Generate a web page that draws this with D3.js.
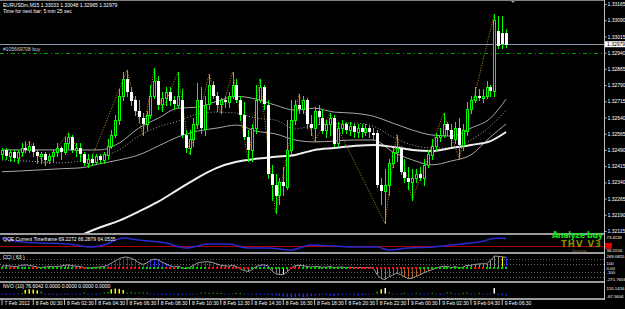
<!DOCTYPE html>
<html>
<head>
<meta charset="utf-8">
<script src="https://cdn.jsdelivr.net/npm/d3@7"></script>
<style>
  html, body { margin: 0; padding: 0; background: #000; }
  svg { display: block; font-family: "Liberation Sans", Arial, sans-serif; }
</style>
</head>
<body>
<svg id="chart" width="625" height="309"></svg>
<script>
// ---- data ----
const openP = [
  1.3247,1.3249,1.3246,1.3248,1.3245,1.3248,1.3250,1.3249,1.3251,1.3248,
  1.3246,1.3247,1.3244,1.3246,1.3248,1.3250,1.3248,1.3252,1.3255,1.3249,
  1.3250,1.3247,1.3243,1.3245,1.3243,1.3246,1.3244,1.3247,1.3251,1.3256,
  1.3263,1.3274,1.3282,1.3276,1.3272,1.3267,1.3264,1.3261,1.3265,1.3274,
  1.3281,1.3270,1.3273,1.3276,1.3272,1.3270,1.3272,1.3256,1.3250,1.3254,
  1.3261,1.3272,1.3259,1.3270,1.3279,1.3274,1.3270,1.3272,1.3271,1.3274,
  1.3279,1.3272,1.3265,1.3255,1.3249,1.3259,1.3272,1.3278,1.3270,1.3238,
  1.3233,1.3228,1.3234,1.3232,1.3249,1.3263,1.3270,1.3268,1.3272,1.3261,
  1.3259,1.3267,1.3264,1.3258,1.3261,1.3264,1.3252,1.3259,1.3261,1.3258,
  1.3260,1.3257,1.3259,1.3257,1.3259,1.3257,1.3257,1.3233,1.3230,1.3233,
  1.3243,1.3248,1.3250,1.3239,1.3236,1.3234,1.3236,1.3238,1.3236,1.3242,
  1.3247,1.3251,1.3255,1.3256,1.3261,1.3258,1.3254,1.3259,1.3251,1.3258,
  1.3268,1.3272,1.3274,1.3273,1.3274,1.3278,1.3276,1.3304,1.3303,1.33033
];
const highP = [
  1.3250,1.3250,1.3249,1.3249,1.3249,1.3252,1.3253,1.3253,1.3252,1.3249,
  1.3248,1.3248,1.3247,1.3249,1.3252,1.3251,1.3255,1.3257,1.3256,1.3252,
  1.3252,1.3248,1.3247,1.3247,1.3247,1.3247,1.3248,1.3254,1.3258,1.3265,
  1.3277,1.3285,1.3286,1.3278,1.3274,1.3272,1.3266,1.3267,1.3279,1.3287,
  1.3283,1.3276,1.3278,1.3278,1.3274,1.3285,1.3277,1.3258,1.3258,1.3264,
  1.3280,1.3278,1.3274,1.3284,1.3281,1.3276,1.3273,1.3274,1.3276,1.3285,
  1.3282,1.3274,1.3271,1.3258,1.3261,1.3279,1.3282,1.3279,1.3272,1.3242,
  1.3238,1.3236,1.3241,1.3263,1.3272,1.3272,1.3275,1.3274,1.3273,1.3265,
  1.3269,1.3270,1.3268,1.3263,1.3266,1.3265,1.3262,1.3263,1.3262,1.3262,
  1.3261,1.3261,1.3261,1.3261,1.3260,1.3259,1.3258,1.3236,1.3240,1.3245,
  1.3250,1.3256,1.3251,1.3245,1.3241,1.3240,1.3240,1.3241,1.3245,1.3249,
  1.3254,1.3257,1.3259,1.3266,1.3262,1.3261,1.3262,1.3264,1.3261,1.3271,
  1.3274,1.3278,1.3277,1.3277,1.3281,1.3279,1.3312,1.3311,1.3311,1.33048
];
const lowP = [
  1.3245,1.3245,1.3244,1.3244,1.3243,1.3246,1.3248,1.3248,1.3246,1.3243,
  1.3243,1.3242,1.3243,1.3244,1.3246,1.3245,1.3247,1.3250,1.3248,1.3246,
  1.3244,1.3242,1.3241,1.3242,1.3243,1.3243,1.3243,1.3245,1.3250,1.3255,
  1.3261,1.3272,1.3274,1.3270,1.3265,1.3262,1.3256,1.3258,1.3264,1.3273,
  1.3268,1.3267,1.3270,1.3270,1.3268,1.3269,1.3255,1.3248,1.3247,1.3251,
  1.3259,1.3257,1.3256,1.3268,1.3273,1.3267,1.3266,1.3269,1.3269,1.3273,
  1.3271,1.3263,1.3254,1.3244,1.3244,1.3257,1.3271,1.3268,1.3236,1.3226,
  1.3220,1.3224,1.3228,1.3231,1.3247,1.3261,1.3266,1.3266,1.3259,1.3256,
  1.3253,1.3261,1.3257,1.3255,1.3256,1.3251,1.3251,1.3257,1.3257,1.3256,
  1.3255,1.3255,1.3255,1.3256,1.3255,1.3254,1.3232,1.3224,1.3215,1.3228,
  1.3241,1.3244,1.3238,1.3234,1.3231,1.3226,1.3234,1.3235,1.3233,1.3241,
  1.3245,1.3249,1.3253,1.3255,1.3256,1.3251,1.3252,1.3245,1.3249,1.3256,
  1.3266,1.3271,1.3272,1.3271,1.3273,1.3274,1.3274,1.3296,1.3296,1.32965
];
const closeP = [
  1.3249,1.3246,1.3248,1.3245,1.3248,1.3250,1.3249,1.3251,1.3248,1.3246,
  1.3247,1.3244,1.3246,1.3248,1.3250,1.3248,1.3252,1.3255,1.3249,1.3250,
  1.3247,1.3243,1.3245,1.3243,1.3246,1.3244,1.3247,1.3251,1.3256,1.3263,
  1.3274,1.3282,1.3276,1.3272,1.3267,1.3264,1.3261,1.3265,1.3274,1.3281,
  1.3270,1.3273,1.3276,1.3272,1.3270,1.3274,1.3256,1.3250,1.3254,1.3261,
  1.3272,1.3259,1.3270,1.3279,1.3274,1.3270,1.3272,1.3271,1.3274,1.3279,
  1.3272,1.3265,1.3255,1.3249,1.3259,1.3272,1.3278,1.3270,1.3238,1.3233,
  1.3228,1.3234,1.3232,1.3249,1.3263,1.3270,1.3268,1.3272,1.3261,1.3259,
  1.3267,1.3264,1.3258,1.3261,1.3264,1.3252,1.3259,1.3261,1.3258,1.3260,
  1.3257,1.3259,1.3257,1.3259,1.3257,1.3256,1.3233,1.3230,1.3233,1.3243,
  1.3248,1.3250,1.3239,1.3236,1.3234,1.3236,1.3238,1.3236,1.3242,1.3247,
  1.3251,1.3255,1.3256,1.3261,1.3258,1.3254,1.3259,1.3251,1.3258,1.3268,
  1.3272,1.3274,1.3273,1.3274,1.3278,1.3276,1.3309,1.3297,1.3298,1.32979
];

// moving-average envelope, sampled every 5 bars
const bandIdx = [0,5,10,15,20,25,30,35,40,45,50,55,60,65,70,75,80,85,90,95,100,105,110,115,120,125,129];
const upperBand = [1.32490,1.32490,1.32490,1.32490,1.32490,1.32490,1.32522,1.32591,1.32637,1.32683,1.32688,1.32715,1.32738,1.32725,1.32697,1.32674,1.32683,1.32665,1.32660,1.32646,1.32614,1.32582,1.32559,1.32554,1.32591,1.32637,1.32725];
const midBand = [1.32444,1.32439,1.32435,1.32430,1.32439,1.32458,1.32490,1.32554,1.32596,1.32623,1.32656,1.32665,1.32660,1.32637,1.32628,1.32587,1.32605,1.32610,1.32614,1.32600,1.32550,1.32513,1.32499,1.32499,1.32536,1.32600,1.32674];
const lowerBand = [1.32389,1.32393,1.32398,1.32403,1.32407,1.32426,1.32444,1.32467,1.32508,1.32550,1.32577,1.32591,1.32605,1.32577,1.32564,1.32536,1.32527,1.32531,1.32536,1.32536,1.32481,1.32444,1.32421,1.32439,1.32467,1.32550,1.32610];
const slowIdx = [15,20,25,30,35,40,45,50,55,60,65,70,75,80,85,90,95,100,105,110,115,120,125,129];
const slowMA = [1.32053,1.32094,1.32131,1.32163,1.32205,1.32251,1.32306,1.32361,1.32407,1.32435,1.32449,1.32458,1.32467,1.32490,1.32499,1.32508,1.32513,1.32504,1.32490,1.32485,1.32499,1.32513,1.32531,1.32573];

// zigzag turning bars: h = bar high, l = bar low
const zigzag = [[4,'l'],[7,'h'],[11,'l'],[17,'h'],[22,'l'],[32,'h'],[36,'l'],[39,'h'],[41,'l'],[45,'h'],[48,'l'],[53,'h'],[56,'l'],[59,'h'],[63,'l'],[66,'h'],[70,'l'],[76,'h'],[80,'l'],[84,'h'],[98,'l'],[101,'h'],[105,'l'],[113,'h'],[117,'l'],[126,'h']];

const priceTicks = [1.33165,1.33090,1.33015,1.32940,1.32865,1.32790,1.32715,1.32640,1.32565,1.32490,1.32415,1.32340,1.32265,1.32190,1.32115];
const bidPrice = 1.32979;
const orderPrice = 1.32940;

const timeIdx = [0,8,16,24,32,40,48,56,64,72,80,88,96,104,112,120,128];
const timeLabels = ['7 Feb 2012','8 Feb 00:30','8 Feb 02:30','8 Feb 04:30','8 Feb 06:30','8 Feb 08:30','8 Feb 10:30','8 Feb 12:30','8 Feb 14:30','8 Feb 16:30','8 Feb 18:30','8 Feb 20:30','8 Feb 22:30','9 Feb 00:30','9 Feb 02:30','9 Feb 04:30','9 Feb 06:30'];

// QQE line
const qqeIdx = [0,5,10,17,23,26,31,35,42,47,53,58,63,68,74,79,85,90,96,99,104,110,115,122,127,129];
const qqeVals = [70.8,60.2,57.6,55.0,47.0,52.3,70.8,65.5,57.6,44.4,55.0,55.0,44.4,44.4,39.1,52.3,49.7,47.0,47.0,39.1,44.4,47.0,52.3,60.2,70.8,69.2];

// CCI(63) per bar, its bar colour (g grey, b blue, o brown, y yellow) and the zero-row dots (g green, r red)
const cciVals = [40,50,45,30,35, 60,70,55,40,20, 10,20,30,25,35, 40,60,70,50,40, 30,10,-10,5,15, 20,30,60,110,160,
  210,240,245,220,180, 120,80,110,170,200, 180,130,90,50,20, 40,10,-20,10,60, 110,130,140,140,120, 90,60,50,40,60,
  30,-20,-60,-80,-40, 30,60,70,50,-60, -130,-150,-150,-90,0, 50,60,55,30,20, 30,30,15,20,30, 10,15,20,10,15,
  10,5,10,5,10, 0,-150,-240,-260,-200, -160,-120,-150,-200,-240, -230,-190,-150,-110,-70, -40,-10,20,40,30,
  10,30,-10,20,60, 60,80,90,95,95, 170,270,260,250,240];
const cciBarColor = 'gggggbbbbggggggggggggggggggbbbbbbbbbbbbbbbbbbbggggbbbbbbggggggggbbbbggggyggggggggggggggggggggggggoooooooooooooooogggggggggggggggybbbbbb';
const cciDotColor = 'ggrrggggrrgggggggggrrrgggggrrrrrrrrrggggggrrrggggggggrrrrrrrrrrrggggggggggrrrggggggggggggrrrrrrrrrrrrrrrrrrggggggggggggggrrrggggggggggg';

// NVO(10) histogram per bar
const nvoVals = [-30,-40,-30,-35,-20,20,100,120,110,90, 60,-30,-40,-35,-45,-30,-40,-35,-20,-30,
  -25,30,-30,-20,-35,-25,30,40,120,140, 130,100,30,40,25,35,30,20,-20,-25,
  -30,-40,-45,-35,-30,-50,-40,-30,-25,-30, -20,25,30,20,25,20,15,-20,-25,-15,
  20,15,-20,-30,-25,-40,-35,-30,-40,-45, -50,-60,-80,-90,-100,-90,-80,-100,-90,-70,
  -60,-50,-30,-40,-60,-70,-50,-40,-30,-20, -40,-60,-50,-40,-30,-20,60,120,155,40,
  -20,-30,-40,20,-30,-20,25,-40,-30,-20, 20,-30,-40,-20,30,25,-30,-40,20,30,
  -20,-30,20,-25,-30,-20,155,-40,-50,-60];

// ---- layout ----
const AXIS_X = 604;
const MAIN_BOTTOM = 233;
const FONT = 5;
const SMALL_FONT = 4.3;
const LIME = '#00ff00';

const svg = d3.select('#chart');
svg.append('rect').attr('width', 625).attr('height', 309).attr('fill', '#000');

const x = d3.scaleLinear().domain([0, 129]).range([2, 506.1]);
const y = d3.scaleLinear().domain([1.32115, 1.33165]).range([231, 4]);
const qy = d3.scaleLinear().domain([36.5156, 73.4118]).range([251, 237]);
const cy = d3.scaleLinear().domain([-271.7656, 269.0855]).range([280, 256]);
const ny = d3.scaleLinear().domain([-67.5604, 155.1416]).range([296, 288]);
const px = i => Math.round(x(i)) + 0.5;

const bars = d3.range(openP.length).map(i => ({
  i, o: openP[i], h: highP[i], l: lowP[i], c: closeP[i]
}));

svg.append('clipPath').attr('id', 'mainClip')
  .append('rect').attr('x', 0).attr('y', 1).attr('width', AXIS_X).attr('height', MAIN_BOTTOM - 1);

const main = svg.append('g').attr('clip-path', 'url(#mainClip)');

// smooth line through values sampled at a few bar indices
const knotLine = (idx, vals, scale) => d3.line()
  .x((d, k) => x(idx[k]))
  .y(d => scale(d))
  .curve(d3.curveMonotoneX)(vals);

// Envelope and slow average
main.append('path').attr('d', knotLine(bandIdx, upperBand, y))
  .attr('fill', 'none').attr('stroke', '#a8a8a8').attr('stroke-width', 1);
main.append('path').attr('d', knotLine(bandIdx, midBand, y))
  .attr('fill', 'none').attr('stroke', '#a8a8a8').attr('stroke-width', 1).attr('stroke-dasharray', '1,2');
main.append('path').attr('d', knotLine(bandIdx, lowerBand, y))
  .attr('fill', 'none').attr('stroke', '#a8a8a8').attr('stroke-width', 1);
main.append('path').attr('d', knotLine(slowIdx, slowMA, y))
  .attr('fill', 'none').attr('stroke', '#f0f0f0').attr('stroke-width', 2);

// Zigzag through the swing highs / lows
main.append('path')
  .attr('d', d3.line()
    .x(d => x(d[0]))
    .y(d => y(d[1] === 'h' ? highP[d[0]] : lowP[d[0]]))(zigzag))
  .attr('fill', 'none').attr('stroke', '#c98a1e').attr('stroke-width', 1).attr('stroke-dasharray', '1,1.5');

// Bid line and the open order line
const bidY = Math.round(y(bidPrice)) + 0.5;
const orderY = Math.round(y(orderPrice)) + 0.5;
main.append('line').attr('x1', 0).attr('x2', AXIS_X).attr('y1', bidY).attr('y2', bidY)
  .attr('stroke', '#8797a8');
main.append('line').attr('x1', 0).attr('x2', AXIS_X).attr('y1', orderY).attr('y2', orderY)
  .attr('stroke', '#00a000').attr('stroke-dasharray', '4,3,1,3');

// Candles: white body = bear, black body with lime edge = bull
const candle = main.selectAll('.candle').data(bars).enter().append('g').attr('class', 'candle');
candle.append('line')
  .attr('x1', d => px(d.i)).attr('x2', d => px(d.i))
  .attr('y1', d => Math.round(y(d.h))).attr('y2', d => Math.round(y(d.l)) + 1)
  .attr('stroke', LIME);
candle.append('rect')
  .attr('x', d => d.c < d.o ? px(d.i) - 1.5 : px(d.i) - 1)
  .attr('width', d => d.c < d.o ? 3 : 2)
  .attr('y', d => Math.round(Math.min(y(d.o), y(d.c))) + (d.c < d.o ? 0 : 0.5))
  .attr('height', d => Math.max(1, Math.round(Math.abs(y(d.o) - y(d.c)))))
  .attr('fill', d => d.c < d.o ? '#ffffff' : '#000')
  .attr('stroke', d => d.c < d.o ? 'none' : LIME);

// Top border and shift marker
svg.append('path').attr('d', 'M510,0 L516,0 L513,3 Z').attr('fill', '#9a9a9a');
svg.append('line').attr('x1', 0).attr('x2', AXIS_X).attr('y1', 0.5).attr('y2', 0.5).attr('stroke', '#808080');

// ---- QQE panel ----
const q50 = Math.round(qy(50)) + 0.5;
svg.append('line').attr('x1', 0).attr('x2', AXIS_X).attr('y1', q50).attr('y2', q50)
  .attr('stroke', '#b00000');
svg.append('path').attr('d', knotLine(qqeIdx, qqeVals, qy))
  .attr('fill', 'none').attr('stroke', '#2a2ad0').attr('stroke-width', 1.5);

// ---- CCI panel ----
[200, 100, -100, -200].forEach(v => {
  const ly = Math.round(cy(v)) + 0.5;
  svg.append('line').attr('x1', 0).attr('x2', AXIS_X).attr('y1', ly).attr('y2', ly)
    .attr('stroke', '#6a6a6a').attr('stroke-dasharray', '1,2');
});
const cciColors = { g: '#8a8a8a', b: '#2a2ae0', o: '#b0602a', y: '#ffff00' };
svg.append('g').selectAll('line').data(cciVals).enter().append('line')
  .attr('x1', (d, i) => px(i)).attr('x2', (d, i) => px(i))
  .attr('y1', cy(0)).attr('y2', d => cy(d))
  .attr('stroke', (d, i) => cciColors[cciBarColor[i]]);
svg.append('path')
  .attr('d', d3.line().x((d, i) => x(i)).y(d => cy(d))(cciVals))
  .attr('fill', 'none').attr('stroke', '#9a9a9a').attr('stroke-width', 1);
svg.append('g').selectAll('rect').data(cciVals).enter().append('rect')
  .attr('x', (d, i) => Math.round(x(i)) - 1).attr('y', Math.round(cy(0)) - 1)
  .attr('width', 2).attr('height', 2)
  .attr('fill', (d, i) => cciDotColor[i] === 'g' ? '#00d000' : '#ff1010');

// ---- NVO panel ----
const nvoColor = v => v >= 150 ? '#ffffff' : v >= 90 ? '#ffff00' : v > 0 ? '#00b000' : '#2a2ad8';
svg.append('g').selectAll('rect').data(nvoVals).enter().append('rect')
  .attr('x', (d, i) => Math.round(x(i)) - 0.5).attr('width', 1.5)
  .attr('y', d => Math.min(ny(0), ny(d)))
  .attr('height', d => Math.max(1, Math.abs(ny(d) - ny(0))))
  .attr('fill', d => nvoColor(d));

// ---- panel separators and price axis ----
[233, 252, 281, 298].forEach(sy => {
  svg.append('rect').attr('x', 0).attr('y', sy).attr('width', AXIS_X).attr('height', 2).attr('fill', '#9c9c9c');
});
svg.append('line').attr('x1', AXIS_X + 0.5).attr('x2', AXIS_X + 0.5).attr('y1', 0).attr('y2', 300)
  .attr('stroke', '#c0c0c0');

const priceAxis = svg.append('g')
  .attr('transform', `translate(${AXIS_X + 0.5},0)`)
  .call(d3.axisRight(y).tickValues(priceTicks).tickFormat(d3.format('.5f')).tickSize(2).tickPadding(1));
priceAxis.select('.domain').remove();
priceAxis.selectAll('line').attr('stroke', '#c0c0c0');
priceAxis.selectAll('text').attr('fill', '#fff').attr('font-size', FONT).attr('font-family', 'Liberation Sans, Arial');

// current bid box
svg.append('rect').attr('x', AXIS_X + 1).attr('y', y(bidPrice) - 3).attr('width', 20).attr('height', 6).attr('fill', '#fff');
svg.append('text').attr('x', AXIS_X + 3).attr('y', y(bidPrice) + 2).attr('font-size', FONT).attr('fill', '#000').text('1.32979');

// sub-window scale labels
const sideLabel = (txt, yy) => svg.append('text')
  .attr('x', AXIS_X + 2.5).attr('y', yy + 1.5).attr('font-size', SMALL_FONT).attr('fill', '#fff').text(txt);
sideLabel('73.4118', qy(73.4118) + 0.5);
svg.append('rect').attr('x', AXIS_X + 1).attr('y', qy(50) - 3).attr('width', 7).attr('height', 6).attr('fill', '#e00000');
sideLabel('36.5156', qy(36.5156) - 0.5);
sideLabel('269.0855', cy(269.0855) + 0.5);
sideLabel('100', cy(100));
sideLabel('0.00', cy(0) + 0.5);
sideLabel('-100', cy(-100) + 0.5);
sideLabel('-271.7656', cy(-271.7656) - 0.5);
sideLabel('155.1416', ny(155.1416));
sideLabel('-67.5604', ny(-67.5604) + 0.5);

// ---- time axis ----
const timeAxis = svg.append('g')
  .attr('transform', 'translate(0,299)')
  .call(d3.axisBottom(x).tickValues(timeIdx).tickFormat((d, k) => timeLabels[k]).tickSize(6));
timeAxis.select('.domain').remove();
timeAxis.selectAll('line').attr('stroke', '#c0c0c0').attr('transform', 'translate(-0.5,0)');
timeAxis.selectAll('text')
  .attr('fill', '#fff').attr('font-size', FONT).attr('font-family', 'Liberation Sans, Arial')
  .attr('text-anchor', 'start').attr('x', 2).attr('y', 2).attr('dy', '0.71em');

// ---- captions ----
const caption = (txt, cx, cyy, col) => svg.append('text')
  .attr('x', cx).attr('y', cyy).attr('font-size', FONT).attr('fill', col || '#fff').text(txt);
caption('EURUSDm,M15  1.33033 1.33048 1.32965 1.32979', 3, 7);
caption('Time for next bar: 5 min 25 sec', 3, 13);
caption('#105669708 buy', 3, Math.round(y(orderPrice)) - 2, '#d0d0d0');
caption('QQE Current Timeframe 69.2272 66.2879 64.0535', 3, 241);
caption('CCI ( 63 )', 3, 259);
caption('NVO (10) 76.6042 0.0000 0.0000 0.0000 0.0000', 3, 288);

svg.append('text').attr('x', 552).attr('y', 238).attr('font-size', 8).attr('font-weight', 'bold')
  .attr('font-family', 'DejaVu Sans').attr('textLength', 51).attr('fill', '#10e010').text('Analyze buy');
svg.append('text').attr('x', 561).attr('y', 246.5).attr('font-size', 8.5).attr('font-weight', 'bold')
  .attr('font-family', 'DejaVu Sans').attr('textLength', 40).attr('fill', '#858a00').text('THV V3');
svg.append('text').attr('x', 572).attr('y', 251.5).attr('font-size', SMALL_FONT)
  .attr('fill', '#7a6530').text('System');
</script>
</body>
</html>
